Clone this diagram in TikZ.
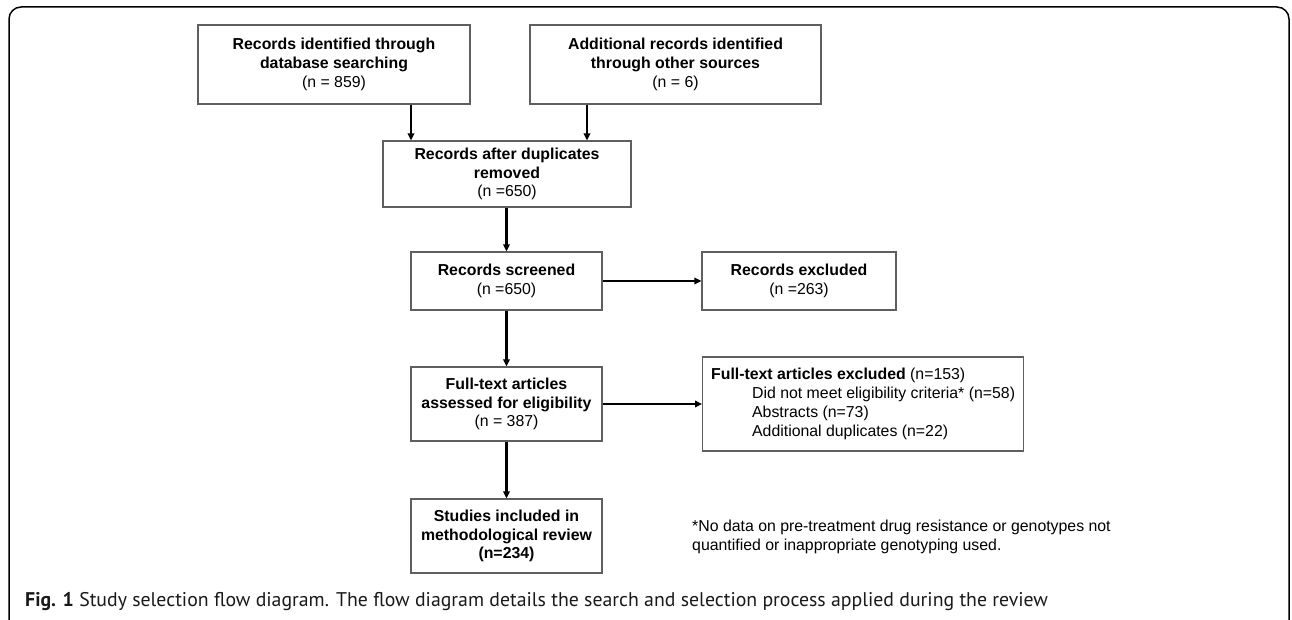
\documentclass[tikz,border=0pt]{standalone}
\usepackage{fontspec}
\setmainfont{Liberation Sans}
\newfontfamily\capfont{PT Sans}
\usetikzlibrary{arrows.meta}
\definecolor{boxline}{RGB}{95,95,95}
\definecolor{captxt}{RGB}{25,25,25}
\tikzset{
  x=1pt, y=-1pt,
  flowbox/.style={draw=boxline, line width=1.2pt, inner sep=0pt, align=center,
    font=\fontsize{15.85}{18.8}\selectfont},
  notebox/.style={draw=boxline, line width=1.2pt, inner xsep=8pt, inner ysep=0pt, align=left,
    font=\fontsize{15.85}{19}\selectfont},
  arr/.style={line width=2.2pt, -{Triangle[length=7pt,width=6.5pt]}},
  frame/.style={line width=1.5pt, rounded corners=12pt},
  plaintext/.style={inner sep=0pt, align=left, font=\fontsize{15.85}{18.5}\selectfont}
}
\begin{document}
\begin{tikzpicture}
\useasboundingbox (0,0) rectangle (1292,620);
\clip (0,0) rectangle (1292,620);
\draw[frame] (9,7) rectangle (1289,634);

\node[flowbox, minimum width=272pt, minimum height=79pt] (b1) at (334,64.5)
  {\textbf{Records identified through}\\\textbf{database searching}\\(n = 859)};
\node[flowbox, minimum width=291pt, minimum height=79pt] (b2) at (675.5,64.5)
  {\textbf{Additional records identified}\\\textbf{through other sources}\\(n = 6)};
\node[flowbox, minimum width=248pt, minimum height=66pt] (b3) at (507,174)
  {\textbf{Records after duplicates}\\\textbf{removed}\\(n =650)};
\node[flowbox, minimum width=191pt, minimum height=58pt] (b4) at (506.5,281)
  {\textbf{Records screened}\\(n =650)};
\node[flowbox, minimum width=191pt, minimum height=74pt] (b5) at (506.5,404)
  {\textbf{Full-text articles}\\\textbf{assessed for eligibility}\\(n = 387)};
\node[flowbox, minimum width=191pt, minimum height=74pt] (b6) at (506.5,536)
  {\textbf{Studies included in}\\\textbf{methodological review}\\\textbf{(n=234)}};
\node[flowbox, minimum width=194pt, minimum height=58pt] (e1) at (799,281)
  {\textbf{Records excluded}\\(n =263)};
\node[notebox, minimum width=321pt, minimum height=94pt, anchor=west] (e2) at (702,404)
  {\textbf{Full-text articles excluded} (n=153)\\
   \hspace*{41pt}Did not meet eligibility criteria* (n=58)\\
   \hspace*{41pt}Abstracts (n=73)\\
   \hspace*{41pt}Additional duplicates (n=22)};

\node[plaintext, anchor=west] (fn) at (692,537)
  {*No data on pre-treatment drug resistance or genotypes not\\quantified or inappropriate genotyping used.};

\node[inner sep=0pt, anchor=base west, text=captxt, font=\capfont\fontsize{19.8}{22}\selectfont] (cap) at (25,606)
  {\textbf{Fig. 1} Study selection flow diagram. The flow diagram details the search and selection process applied during the review};

\coordinate (xa) at (411,0);
\coordinate (xb) at (587,0);
\draw[arr] (b1.south -| xa) -- (b3.north -| xa);
\draw[arr] (b2.south -| xb) -- (b3.north -| xb);
\draw[arr] (b3.south -| b4.north) -- (b4.north);
\draw[arr] (b4.south) -- (b5.north);
\draw[arr] (b5.south) -- (b6.north);
\draw[arr] (b4.east) -- (e1.west);
\draw[arr] (b5.east) -- (b5.east -| e2.west);
\end{tikzpicture}
\end{document}
